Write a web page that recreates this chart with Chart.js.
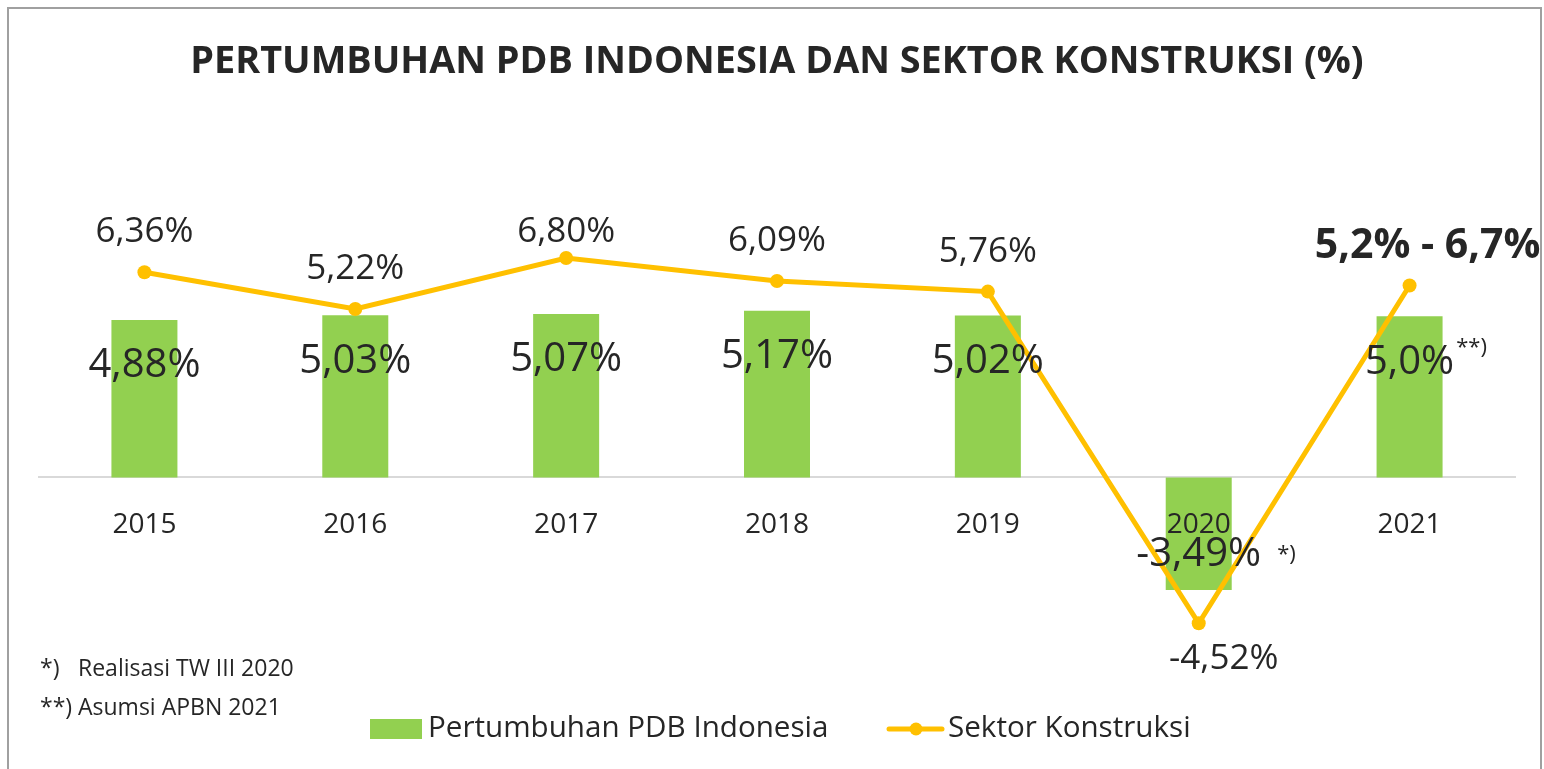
<!DOCTYPE html>
<html>
<head>
<meta charset="utf-8">
<script src="https://cdn.jsdelivr.net/npm/chart.js@4.4.1/dist/chart.umd.min.js"></script>
<style>
  html, body { margin: 0; padding: 0; background: #fff; }
  #wrap { position: relative; width: 1544px; height: 769px; overflow: hidden; }
  #frame { position: absolute; left: 7px; top: 7px; width: 1535px; height: 800px; border: 2px solid #a0a0a0; box-sizing: border-box; pointer-events: none; }
  canvas { position: absolute; left: 0; top: 0; }
</style>
</head>
<body>
<div id="wrap">
  <canvas id="c" width="1544" height="769"></canvas>
  <div id="frame"></div>
</div>
<script>
const years = ['2015', '2016', '2017', '2018', '2019', '2020', '2021'];
const pdbValues = [4.88, 5.03, 5.07, 5.17, 5.02, -3.49, 5.0];
const konstruksiValues = [6.36, 5.22, 6.80, 6.09, 5.76, -4.52, 5.95];
const pdbLabels = ['4,88%', '5,03%', '5,07%', '5,17%', '5,02%', '-3,49%', '5,0%'];
const pdbNotes = ['', '', '', '', '', '*)', '**)'];
const konstruksiLabels = ['6,36%', '5,22%', '6,80%', '6,09%', '5,76%', '-4,52%', '5,2% - 6,7%'];
const footnotes = [['*)', 'Realisasi TW III 2020'], ['**)', 'Asumsi APBN 2021']];
const seriesNames = ['Pertumbuhan PDB Indonesia', 'Sektor Konstruksi'];
const titleText = 'PERTUMBUHAN PDB INDONESIA DAN SEKTOR KONSTRUKSI (%)';

const GREEN = '#92D050';
const GOLD = '#FFC000';
const TXT = '#262626';
const FONT = "'Open Sans', 'Noto Sans', sans-serif";

// label placement (style): offsets from the point for the line labels
const lineLabelPlacement = [
  { dx: 0, dy: -40 }, { dx: 0, dy: -40 }, { dx: 0, dy: -26 }, { dx: 0, dy: -40 },
  { dx: 0, dy: -40 }, { dx: 25, dy: 36 }, { dx: 18, dy: -39, bold: true }
];

const labelPlugin = {
  id: 'labelPlugin',
  afterDatasetsDraw(chart) {
    const ctx = chart.ctx;
    const xs = chart.scales.x;
    const ys = chart.scales.y;
    ctx.save();
    ctx.textBaseline = 'middle';
    ctx.fillStyle = TXT;
    // category labels just below the zero line
    ctx.font = "28px " + FONT;
    ctx.textAlign = 'center';
    years.forEach((yr, i) => {
      ctx.fillText(yr, xs.getPixelForValue(i), ys.getPixelForValue(0) + 48);
    });
    // bar labels (inside end)
    const barMeta = chart.getDatasetMeta(0);
    barMeta.data.forEach((bar, i) => {
      const v = pdbValues[i];
      const y = v >= 0 ? bar.y + 46 : bar.y - 35;
      ctx.font = "40px " + FONT;
      ctx.textAlign = 'center';
      ctx.fillText(pdbLabels[i], bar.x, y);
      if (pdbNotes[i]) {
        const w = ctx.measureText(pdbLabels[i]).width;
        ctx.font = "22px " + FONT;
        ctx.textAlign = 'left';
        const gap = v >= 0 ? 2 : 16;
        ctx.fillText(pdbNotes[i], bar.x + w / 2 + gap, y - (v >= 0 ? 14 : 0));
      }
    });
    // line labels
    const lineMeta = chart.getDatasetMeta(1);
    lineMeta.data.forEach((pt, i) => {
      const p = lineLabelPlacement[i];
      ctx.textAlign = 'center';
      ctx.font = p.bold ? "bold 41px " + FONT : "35px " + FONT;
      ctx.fillText(konstruksiLabels[i], pt.x + p.dx, pt.y + p.dy);
    });
    ctx.restore();
  },
  afterDraw(chart) {
    const ctx = chart.ctx;
    ctx.save();
    ctx.fillStyle = TXT;
    ctx.textBaseline = 'middle';
    ctx.textAlign = 'left';
    // footnotes
    ctx.font = "23px " + FONT;
    footnotes.forEach((f, i) => {
      const y = 669 + i * 39;
      ctx.fillText(f[0], 40, y);
      ctx.fillText(f[1], 78, y);
    });
    // legend
    const ly = 729;
    ctx.fillStyle = GREEN;
    ctx.fillRect(370, ly - 10, 52, 20);
    ctx.fillStyle = TXT;
    ctx.font = "29.6px " + FONT;
    ctx.fillText(seriesNames[0], 428, ly);
    ctx.strokeStyle = GOLD;
    ctx.lineWidth = 5;
    ctx.lineCap = 'round';
    ctx.beginPath();
    ctx.moveTo(889, ly);
    ctx.lineTo(942, ly);
    ctx.stroke();
    ctx.fillStyle = GOLD;
    ctx.beginPath();
    ctx.arc(916, ly, 6.5, 0, Math.PI * 2);
    ctx.fill();
    ctx.fillStyle = TXT;
    ctx.fillText(seriesNames[1], 948, ly);
    ctx.restore();
  }
};

new Chart(document.getElementById('c'), {
  type: 'bar',
  data: {
    labels: years,
    datasets: [
      {
        type: 'bar',
        label: seriesNames[0],
        data: pdbValues,
        backgroundColor: GREEN,
        borderWidth: 0,
        barPercentage: 0.313,
        categoryPercentage: 1.0,
        order: 2
      },
      {
        type: 'line',
        label: seriesNames[1],
        data: konstruksiValues,
        borderColor: GOLD,
        backgroundColor: GOLD,
        borderWidth: 5,
        pointRadius: 7,
        pointHoverRadius: 7,
        pointBackgroundColor: GOLD,
        pointBorderWidth: 0,
        tension: 0,
        order: 1
      }
    ]
  },
  options: {
    responsive: false,
    animation: false,
    devicePixelRatio: 1,
    layout: { padding: { left: 39, right: 29, top: 10, bottom: 98 } },
    plugins: {
      legend: { display: false },
      tooltip: { enabled: false },
      title: {
        display: true,
        text: titleText,
        color: TXT,
        font: { family: FONT, size: 37.8, weight: 'bold', lineHeight: 1.2 },
        padding: { top: 30, bottom: 134 }
      }
    },
    scales: {
      y: { display: false, min: -6, max: 8 },
      x: {
        position: { y: 0 },
        grid: { display: false, drawTicks: false },
        border: { display: true, color: '#D9D9D9', width: 2 },
        ticks: { display: false }
      }
    }
  },
  plugins: [labelPlugin]
});
</script>
</body>
</html>
